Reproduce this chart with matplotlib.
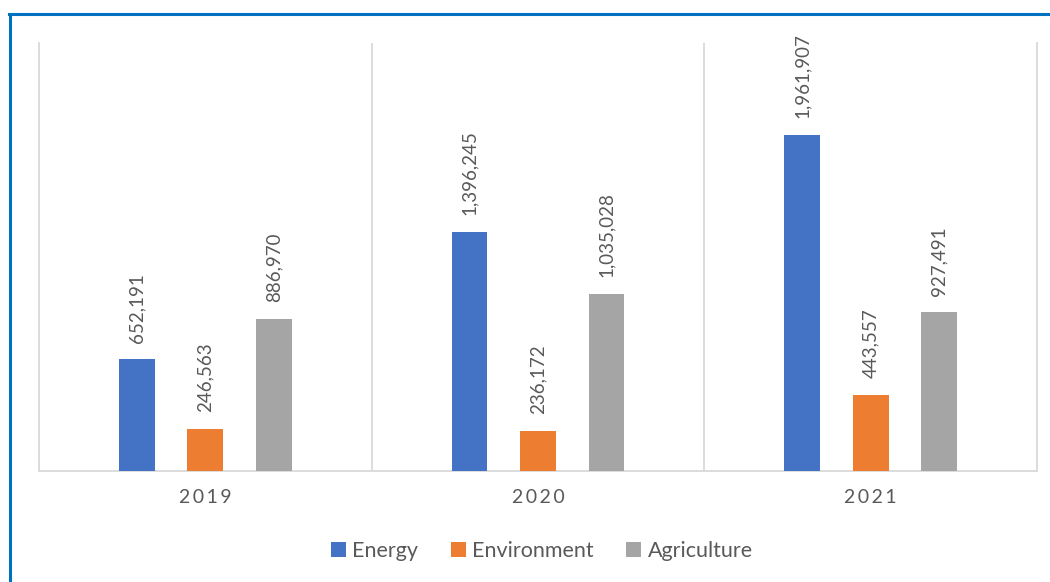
import numpy as np
import matplotlib
matplotlib.use('Agg')
import matplotlib.pyplot as plt
from matplotlib.lines import Line2D

years = ['2019', '2020', '2021']
series = ['Energy', 'Environment', 'Agriculture']
energy = [652191, 1396245, 1961907]
environment = [246563, 236172, 443557]
agriculture = [886970, 1035028, 927491]
colors = ['#4472C4', '#ED7D31', '#A5A5A5']

plt.rcParams['font.family'] = ['Lato', 'DejaVu Sans']
text_col = '#595959'
grid_col = '#D9D9D9'

fig = plt.figure(figsize=(10.5, 5.82), dpi=100)
ax = fig.add_axes([39 / 1050, 1 - 471 / 582, (1037 - 39) / 1050, (471 - 43) / 582])

x = np.arange(len(years))
width = 0.108
step = 0.206
for i, (name, vals) in enumerate(zip(series, [energy, environment, agriculture])):
    pos = x + (i - 1) * step
    ax.bar(pos, vals, width, color=colors[i], label=name, zorder=3)
    for p, v in zip(pos, vals):
        ax.annotate(f'{v:,}', (p, v), xytext=(0, 12), textcoords='offset points',
                    rotation=90, ha='center', va='bottom', fontsize=13.5,
                    color=text_col)

ax.set_xlim(-0.5, 2.5)
ax.set_ylim(0, 2500000)
ax.set_yticks([])
for b in [0.5, 1.5]:
    ax.axvline(b, color=grid_col, lw=1.3, zorder=1)
ax.spines['top'].set_visible(False)
for s in ['left', 'right', 'bottom']:
    ax.spines[s].set_color(grid_col)
    ax.spines[s].set_linewidth(1.3)
ax.set_xticks(x)
ax.set_xticklabels(['\u2009'.join(list(y)) for y in years])
ax.tick_params(axis='x', length=0, pad=13, labelsize=14, labelcolor=text_col)

fig.legend(loc='center', bbox_to_anchor=(0.516, 1 - 551 / 582), ncol=3,
           frameon=False, fontsize=15.5, labelcolor=text_col,
           handlelength=0.7, handleheight=0.7, handletextpad=0.3,
           columnspacing=1.5)

# blue outline of the chart box
fig.add_artist(Line2D([10 / 1050, 10 / 1050], [0, 1 - 14 / 582], color='#0070C0', lw=2.2))
fig.add_artist(Line2D([9 / 1050, 1], [1 - 14 / 582, 1 - 14 / 582], color='#0070C0', lw=2.2))

fig.savefig('out.png', dpi=100)
